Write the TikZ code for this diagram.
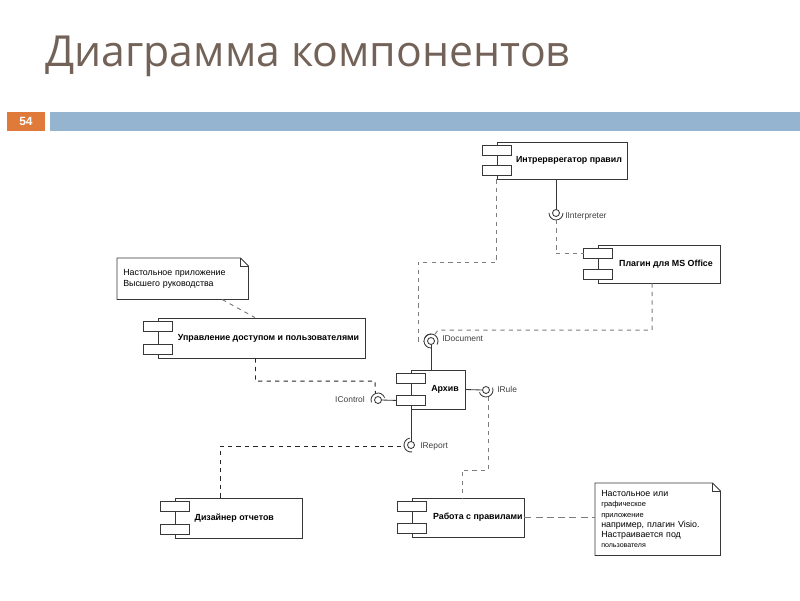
\documentclass[tikz,border=0pt]{standalone}
\usepackage{fontspec}
\setmainfont{Liberation Sans}
\newfontfamily\titlefont{Open Sans}
\usepackage{tikz}
\usetikzlibrary{calc}
\usepackage{xcolor}
\definecolor{titlebrown}{RGB}{114,98,88}
\definecolor{slideorange}{RGB}{224,122,58}
\definecolor{slideblue}{RGB}{148,180,207}
\definecolor{boxgray}{RGB}{55,55,55}
\definecolor{depgray}{RGB}{125,125,125}
\newcommand\pxu{0.025cm}

\tikzset{
  comp/.style={draw=boxgray, line width=0.6pt, fill=white, inner sep=0pt,
    font=\fontsize{6.3}{7.5}\selectfont\bfseries,
    execute at begin node={\hspace*{#1}}},
  comp/.default=10pt,
  tabbox/.style={draw=boxgray, line width=0.6pt, fill=white},
  note/.style={align=left, inner xsep=6*\pxu, inner ysep=0pt,
    font=\fontsize{6.3}{7.6}\selectfont},
  dep/.style={dashed, depgray, line width=0.7pt},
  depdark/.style={dep, black!85},
  iface/.style={boxgray, line width=0.6pt},
  ilabel/.style={font=\fontsize{6}{7}\selectfont, text=black!75, inner sep=0pt},
}

\begin{document}
\begin{tikzpicture}[x=0.025cm, y=-0.025cm]
    \useasboundingbox (0,0) rectangle (800,600);

    % Slide header
    \node[anchor=base west, inner sep=0pt, text=titlebrown,
      font=\titlefont\fontsize{30.4}{34}\selectfont] (title) at (45,66) {Диаграмма компонентов};
    \fill[slideorange] (7,112) rectangle (45,131);
    \fill[slideblue] (50,112) rectangle (800,131);
    \node[text=white, font=\fontsize{8.5}{9}\selectfont\bfseries] (pagenum) at (26,121.5) {54};

    % Components
    \node[comp, minimum width=130*\pxu, minimum height=37*\pxu] (interp) at (562,160.5) {Интрерврегатор правил};
    \node[comp, minimum width=122*\pxu, minimum height=38*\pxu] (plugin) at (659,264) {Плагин для MS Office};
    \node[comp, minimum width=207*\pxu, minimum height=40*\pxu] (access) at (261.5,338) {Управление доступом и пользователями};
    \node[comp, minimum width=54*\pxu, minimum height=39*\pxu] (arch) at (438,389.5) {Архив};
    \node[comp=-6pt, minimum width=127*\pxu, minimum height=40*\pxu] (designer) at (238.5,518) {Дизайнер отчетов};
    \node[comp=14pt, minimum width=112*\pxu, minimum height=39*\pxu] (rules) at (468,517.5) {Работа с правилами};

    % Component tabs
    \foreach \c in {interp,plugin,access,arch,designer,rules} {
        \draw[tabbox] ($(\c.north west)+(-14,4)$) rectangle ++(29,10);
        \draw[tabbox] ($(\c.south west)+(-14,-14)$) rectangle ++(29,10);
    }

    % Notes
    \node[note, anchor=north west, text width=119*\pxu, minimum height=41*\pxu] (note1) at (117,258)
        {Настольное приложение\\Высшего руководства};
    \node[note, anchor=north west, text width=113*\pxu, minimum height=72*\pxu,
      font=\fontsize{6.3}{7.3}\selectfont] (note2) at (595,483)
        {Настольное или\\{\fontsize{5.3}{7.3}\selectfont графическое}\\{\fontsize{5.3}{7.3}\selectfont приложение}\\например, плагин Visio.\\Настраивается под\\{\fontsize{5}{7.3}\selectfont пользователя}};
    \foreach \n in {note1,note2} {
        \draw[boxgray, line width=0.6pt] (\n.north west) -- ($(\n.north east)+(-8,0)$)
            -- ($(\n.north east)+(0,8)$) -- (\n.south east) -- (\n.south west) -- cycle;
        \draw[boxgray, line width=0.6pt] ($(\n.north east)+(-8,0)$) -- ++(0,8) -- ($(\n.north east)+(0,8)$);
    }

    % Interface points
    \coordinate (iint) at (556,213);
    \coordinate (idoc) at (431,341);
    \coordinate (ictl) at (378,400);
    \coordinate (irule) at (486,390);
    \coordinate (irep) at (411,445);
    \coordinate (bend1) at (418,262);

    % Provided interfaces
    \draw[iface] (iint |- interp.south) -- ($(iint)+(0,-3.5)$);
    \draw[iface] (idoc |- arch.north) -- ($(idoc)+(0,3.5)$);
    \draw[iface] ($(arch.south west)+(-14,-9)$) -- ($(ictl)+(3.5,0)$);
    \draw[iface] (arch.east) -- ($(irule)+(-3.5,0)$);
    \draw[iface] (irep |- arch.south) -- ($(irep)+(0,-3.5)$);
    \foreach \pt in {iint,idoc,ictl,irule,irep}
        \draw[iface, fill=white] (\pt) circle (3.5);

    % Required interfaces
    \foreach \pt/\ang in {iint/270,idoc/180,idoc/60,ictl/110,irule/290,irep/190}
        \draw[iface] (\pt) ++({90-\ang}:7) arc[start angle={90-\ang}, end angle={-90-\ang}, radius=7];

    % Dependencies
    \draw[dep] ($(iint)+(0,7)$) |- ($(plugin.north west)+(-14,9)$);
    \draw[dep] (interp.south west) |- (bend1) |- ($(idoc)+(-7,0)$);
    \draw[dep] ($(plugin.south)+(-7,0)$) |- ($(idoc)+(7,-11)$) -- ($(idoc)+(3.5,-6)$);
    \draw[depdark] ($(access.south)+(-6,0)$) |- ($(ictl)+(-3,-19)$) -- ($(ictl)+(-2.5,-7)$);
    \draw[dep] ($(irule)+(2,7)$) -- ($(irule)+(2,80)$) -| ($(rules.north)+(-6,0)$);
    \draw[depdark] ($(designer.north)+(-18,0)$) |- ($(irep)+(-7,1)$);
    \draw[dep, dash pattern=on 5pt off 3pt] (rules.east) -- (note2.west |- rules.east);
    \draw[dep] ($(note1.south)+(39.5,0)$) -- ($(access.north)+(-6.5,0)$);

    % Interface labels
    \node[ilabel, anchor=west] (lint) at (565,216) {IInterpreter};
    \node[ilabel, anchor=west] (ldoc) at (442,339) {IDocument};
    \node[ilabel, anchor=east] (lctl) at (365,399) {IControl};
    \node[ilabel, anchor=west] (lrule) at (497,389) {IRule};
    \node[ilabel, anchor=west] (lrep) at (420,446) {IReport};
\end{tikzpicture}
\end{document}
